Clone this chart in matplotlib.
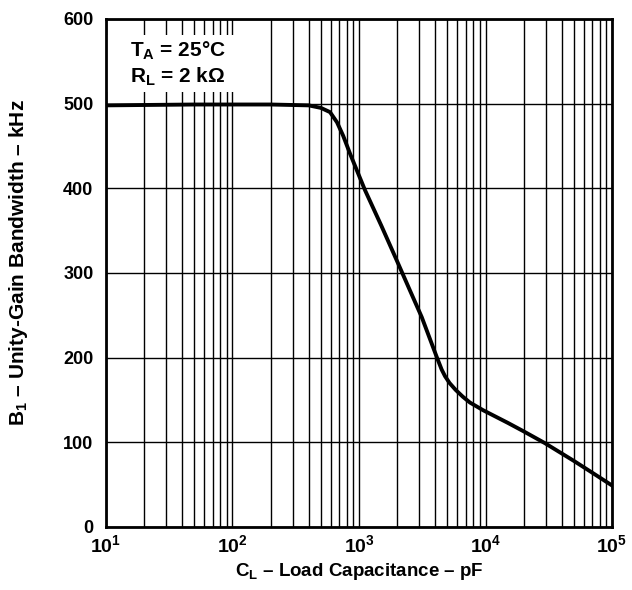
import matplotlib
matplotlib.use("Agg")
import matplotlib.pyplot as plt
from matplotlib.patches import Rectangle
from matplotlib.ticker import LogLocator, NullFormatter
import numpy as np

plt.rcParams['font.family'] = ['Liberation Sans', 'DejaVu Sans']
plt.rcParams['font.weight'] = 'bold'
plt.rcParams['mathtext.fontset'] = 'custom'
plt.rcParams['mathtext.rm'] = 'Liberation Sans:bold'
plt.rcParams['mathtext.it'] = 'Liberation Sans:bold'
plt.rcParams['mathtext.bf'] = 'Liberation Sans:bold'

# load capacitance (pF) and unity-gain bandwidth (kHz)
cap_pf = [10, 50, 200, 400, 500, 590, 670, 750, 849, 1114, 1500, 1986, 2500,
          3130, 4110, 4500, 4790, 5200, 5800, 6600, 7530, 9550, 15000, 20000,
          29500, 50000, 70000, 100000]
bw_khz = [498, 499, 499, 498, 495, 490, 478, 462, 441, 398, 356, 315, 281,
          248, 201, 186, 178, 170, 162, 154, 147, 138, 123, 113,
          99, 78, 64, 49]

y_ticks = [0, 100, 200, 300, 400, 500, 600]
x_ticks = [1e1, 1e2, 1e3, 1e4, 1e5]
x_tick_labels = [r'$10^{1}$', r'$10^{2}$', r'$10^{3}$', r'$10^{4}$', r'$10^{5}$']

fig = plt.figure(figsize=(6.32, 5.9), dpi=100)
ax = fig.add_axes([0.1677, 0.1068, 0.8007, 0.861])

ax.plot(cap_pf, bw_khz, color='black', linewidth=2.8, zorder=4)

ax.set_xscale('log')
ax.set_xlim(10, 1e5)
ax.set_ylim(0, 600)
ax.set_xticks(x_ticks)
ax.set_xticklabels(x_tick_labels, fontsize=14)
ax.xaxis.set_minor_locator(LogLocator(base=10, subs=np.arange(2, 10)))
ax.xaxis.set_minor_formatter(NullFormatter())
ax.set_yticks(y_ticks)
ax.set_yticklabels([str(v) for v in y_ticks], fontsize=13, fontweight='bold')

ax.grid(which='both', axis='x', color='black', linewidth=1.0)
ax.grid(which='major', axis='y', color='black', linewidth=1.0)
ax.tick_params(which='both', length=0)
ax.tick_params(axis='y', pad=9)
ax.tick_params(axis='x', pad=5)
for s in ax.spines.values():
    s.set_linewidth(2.0)
    s.set_zorder(5)

ax.set_xlabel(r'C$_\mathregular{L}$ – Load Capacitance – pF', fontsize=13.5, fontweight='bold', labelpad=4)
ax.set_ylabel(r'B$_\mathregular{1}$ – Unity-Gain Bandwidth – kHz', fontsize=15, fontweight='bold')
ax.yaxis.set_label_coords(-0.15, 0.52)

# white box behind the conditions text
ax.add_patch(Rectangle((0.0, 0.856), 0.275, 0.113, transform=ax.transAxes,
                       facecolor='white', edgecolor='none', zorder=2.5))
ax.text(0.047, 0.925, r'T$_\mathregular{A}$ = 25°C', transform=ax.transAxes,
        fontsize=15, fontweight='bold', va='baseline', ha='left', zorder=3)
ax.text(0.047, 0.874, r'R$_\mathregular{L}$ = 2 kΩ', transform=ax.transAxes,
        fontsize=15, fontweight='bold', va='baseline', ha='left', zorder=3)

fig.savefig('out.png', dpi=100)
